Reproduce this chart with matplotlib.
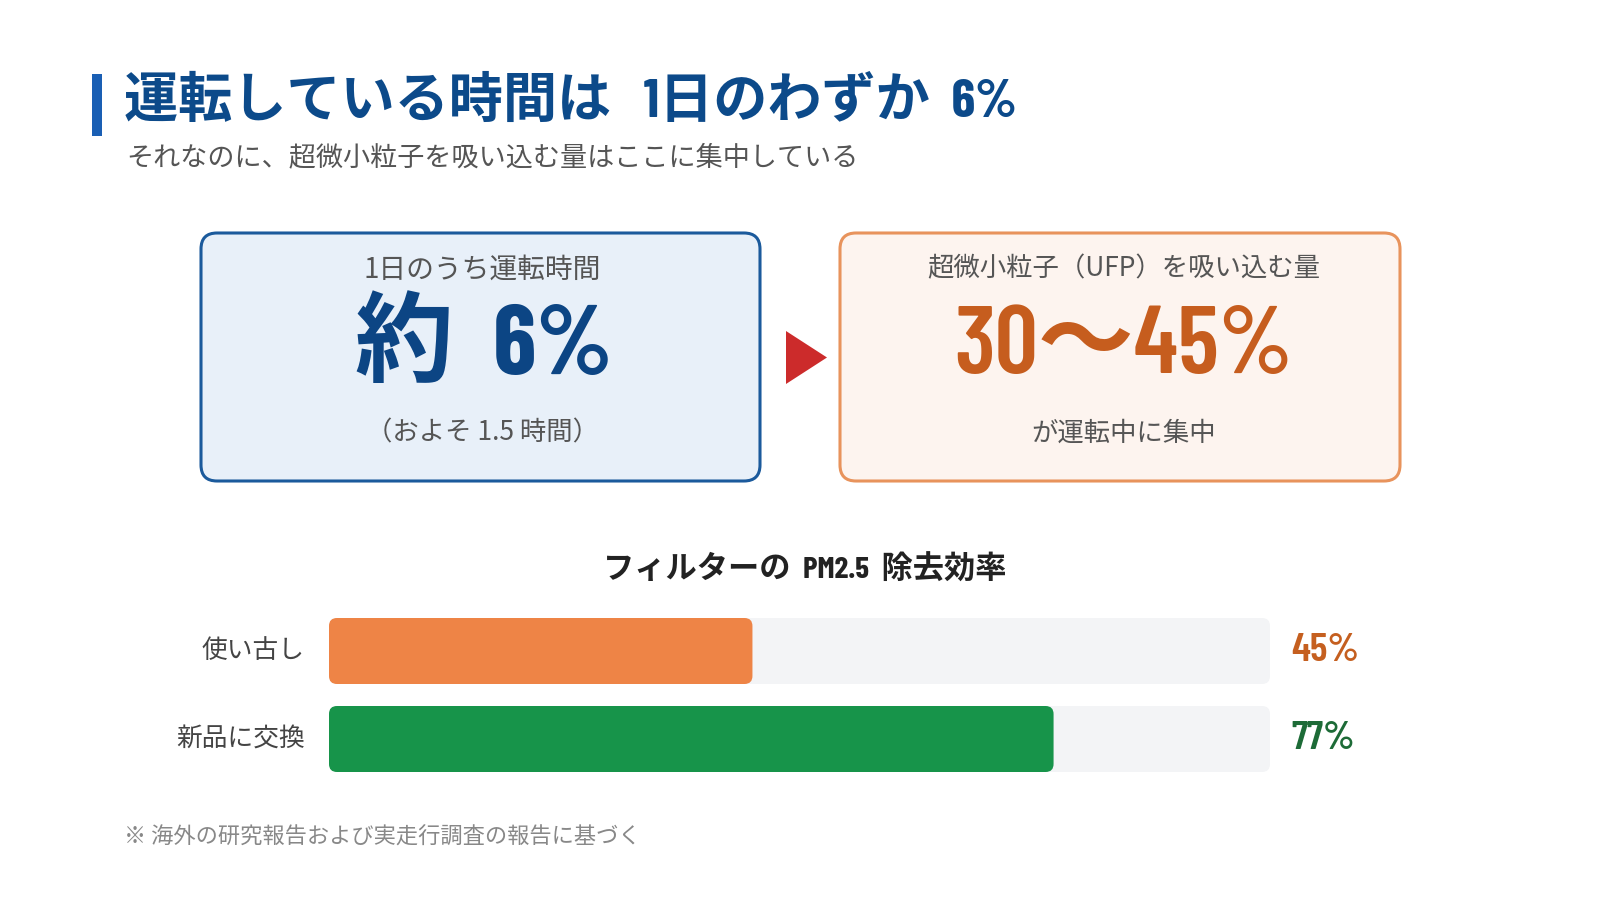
import numpy as np
import matplotlib
matplotlib.use('agg')
import matplotlib.pyplot as plt
from matplotlib import font_manager
from matplotlib.patches import FancyBboxPatch, Polygon

plt.rcParams['font.family'] = ['Noto Sans CJK JP', 'DejaVu Sans']

# narrow digits like the original
_have = {f.name for f in font_manager.fontManager.ttflist}
COND = next((f for f in ['Barlow Condensed', 'Roboto Condensed', 'IBM Plex Sans Condensed']
             if f in _have), 'DejaVu Sans')
NARROW = [COND, 'Noto Sans CJK JP', 'DejaVu Sans']

# data
title = '運転している時間は   1日のわずか  6%'
subtitle = 'それなのに、超微小粒子を吸い込む量はここに集中している'
left_caption = '1日のうち運転時間'
left_value = '約  6%'
left_note = '（およそ 1.5 時間）'
right_caption = '超微小粒子（UFP）を吸い込む量'
right_value = '30～45%'
right_note = 'が運転中に集中'
chart_title = 'フィルターの  PM2.5  除去効率'
categories = ['使い古し', '新品に交換']
efficiency = [45, 77]
footnote = '※ 海外の研究報告および実走行調査の報告に基づく'

bar_colors = ['#ee8446', '#17944a']
value_colors = ['#c55f1f', '#1d6b37']

fig = plt.figure(figsize=(16, 9), dpi=100)
ax = fig.add_axes([0, 0, 1, 1])
ax.set_xlim(0, 1600)
ax.set_ylim(900, 0)
ax.axis('off')

# header
ax.add_patch(plt.Rectangle((92, 74), 10, 62, color='#1a5fb4', lw=0))
ax.text(124, 101, title, fontsize=39, fontweight='bold', color='#0c4a8a',
        va='center', ha='left', family=NARROW)
ax.text(126, 158, subtitle, fontsize=19.5, color='#555555', va='center', ha='left')

# two boxes
ax.add_patch(FancyBboxPatch((201, 233), 559, 248, boxstyle='round,pad=0,rounding_size=16',
                            fc='#e8f0f9', ec='#1b5a9c', lw=2.2))
ax.add_patch(FancyBboxPatch((840, 233), 560, 248, boxstyle='round,pad=0,rounding_size=16',
                            fc='#fdf4ef', ec='#e8935c', lw=2.2))
ax.add_patch(Polygon([[786, 331], [786, 384], [827, 357.5]], closed=True, color='#cc2b2b', lw=0))

ax.text(482, 270, left_caption, fontsize=20, color='#555555', ha='center', va='center')
ax.text(484, 347, left_value, fontsize=71, fontweight='bold', color='#0c4584',
        ha='center', va='center', family=NARROW)
ax.text(482, 433, left_note, fontsize=19, color='#555555', ha='center', va='center')

ax.text(1124, 269, right_caption, fontsize=19, color='#555555', ha='center', va='center')
ax.text(1124, 348, right_value, fontsize=69, fontweight='semibold', color='#c65d1e',
        ha='center', va='center', family=NARROW)
ax.text(1124, 433, right_note, fontsize=19, color='#555555', ha='center', va='center')

# bar chart
ax.text(805, 570, chart_title, fontsize=22.5, fontweight='bold', color='#222222',
        ha='center', va='center', family=NARROW)

W, H = 1600, 900
bx0, bw = 329, 941
by0, bh = 596, 198
bax = fig.add_axes([bx0 / W, 1 - (by0 + bh) / H, bw / W, bh / H])
bax.set_xlim(0, 100)
bax.set_ylim(1.625, -0.625)
bax.axis('off')

ypos = np.arange(len(categories))
height = 0.75
aspect = (1 / 88) / (100 / bw)
rad = 8 * 100 / bw
bars = bax.barh(ypos, efficiency, height=height, color='none')
for i, b in enumerate(bars):
    x, y = b.get_x(), b.get_y()
    bax.add_patch(FancyBboxPatch((0, y), 100, height,
                                 boxstyle='round,pad=0,rounding_size=%.3f' % rad,
                                 mutation_aspect=aspect, fc='#f3f4f6', ec='none'))
    bax.add_patch(FancyBboxPatch((x, y), b.get_width(), height,
                                 boxstyle='round,pad=0,rounding_size=%.3f' % rad,
                                 mutation_aspect=aspect, fc=bar_colors[i], ec='none'))
    bax.text(-2.6, ypos[i], categories[i], fontsize=18.5, color='#444444',
             ha='right', va='center')
    bax.text(102.3, ypos[i], '%d%%' % efficiency[i], fontsize=29.5, fontweight='semibold',
             color=value_colors[i], ha='left', va='center', family=NARROW)

ax.text(124, 837, footnote, fontsize=16, color='#888888', ha='left', va='center')

fig.savefig('out.png', dpi=100, facecolor='white')
